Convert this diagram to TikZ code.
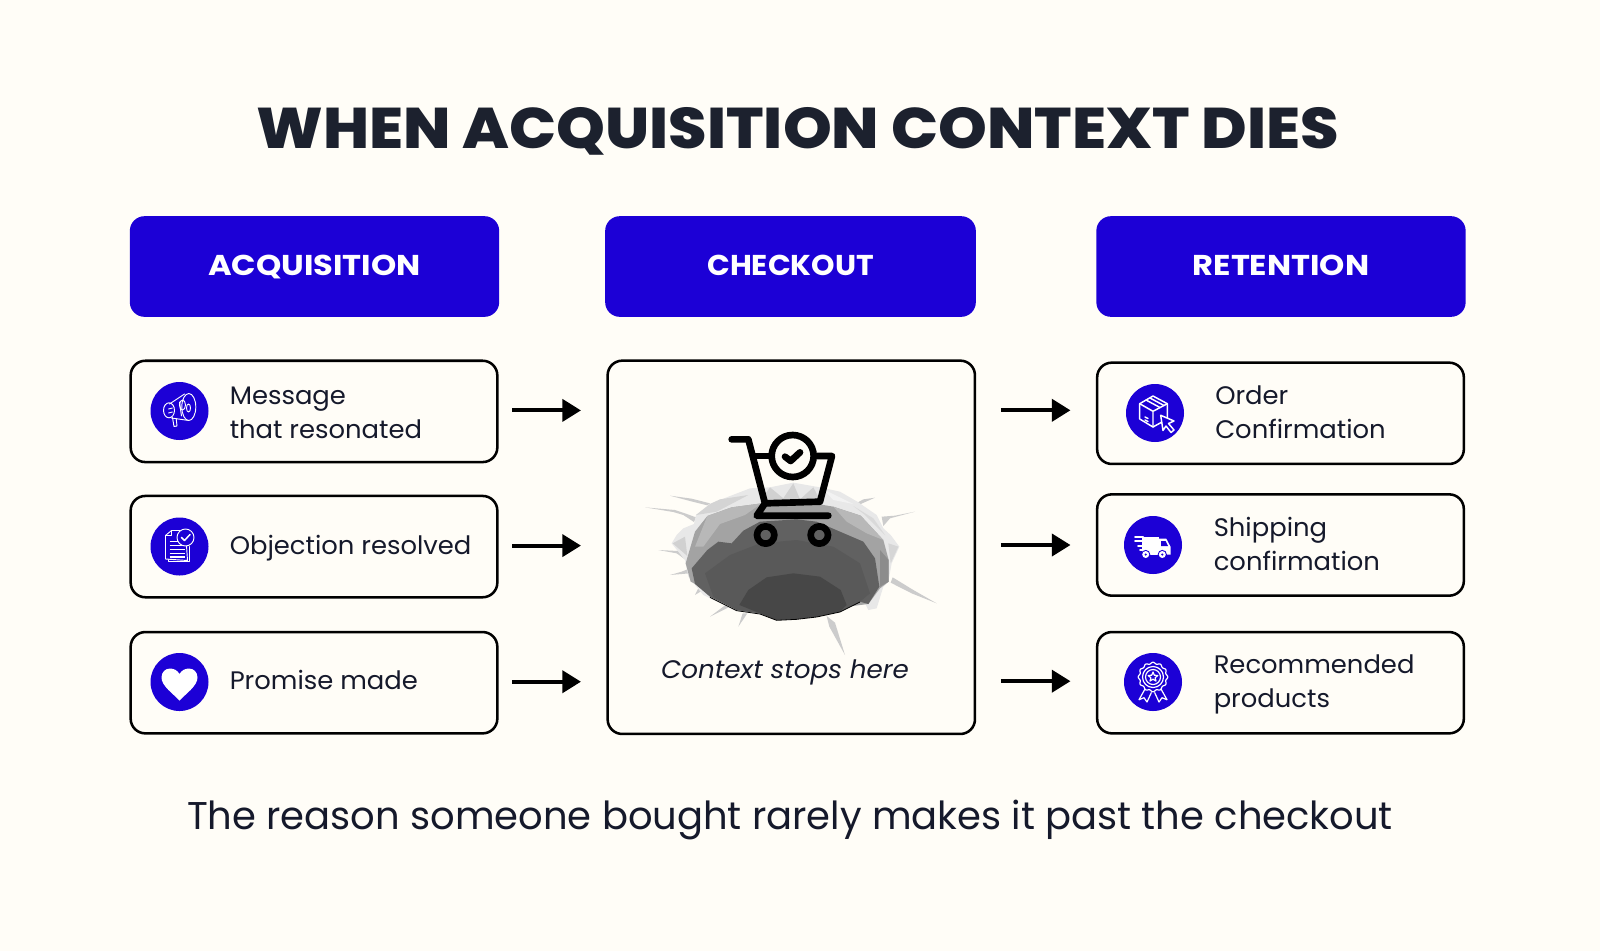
\documentclass[tikz,border=0pt]{standalone}
\usepackage{fontspec}
\usepackage{graphicx}
\usetikzlibrary{arrows.meta,calc}
\newfontfamily\titlef[FakeStretch=1.083]{Poppins ExtraBold}
\newfontfamily\headf[FakeStretch=1.12]{Poppins Bold}
\newfontfamily\bodyf[FakeStretch=1.02]{Poppins}
\newfontfamily\footf[FakeStretch=.995]{Poppins}
\newfontfamily\itf[FakeStretch=1.035]{Poppins Italic}
\definecolor{bgc}{HTML}{FFFDF7}
\definecolor{blu}{HTML}{1C00D6}
\definecolor{ink}{HTML}{1C212E}
\definecolor{bodyink}{HTML}{15192B}
\tikzset{
 x=.75pt,y=-.75pt,
 head/.style={rectangle,rounded corners=11pt,fill=blu,minimum width=277pt,minimum height=75.5pt,inner sep=0pt,outer sep=0pt},
 headtxt/.style={text=white,font=\headf\fontsize{21.5}{24}\selectfont,inner sep=0pt,anchor=base},
 card/.style={rectangle,rounded corners=11pt,draw=black,line width=1.9pt,fill=bgc,inner sep=0pt,outer sep=0pt},
 badge/.style={circle,fill=blu,minimum size=43.5pt,inner sep=0pt},
 lab/.style={text=bodyink,font=\bodyf\fontsize{19}{25.3}\selectfont,inner sep=0pt,align=left},
 conn/.style={line width=3pt,-{Triangle[length=14pt,width=16.5pt]}},
 ico/.style={draw=white,line width=.7pt,line join=round,line cap=round},
 cartl/.style={draw=black,line width=5pt,line cap=round,line join=round},
 rim/.style={fill=#1,draw=none},
}
\begin{document}
\begin{tikzpicture}
\useasboundingbox (0,0) rectangle (1600,951);
\fill[bgc] (0,0) rectangle (1600,951);

\node[text=ink,font=\titlef\fontsize{43}{50}\selectfont,inner sep=0pt,anchor=base] (title) at (797.5,148) {WHEN ACQUISITION CONTEXT DIES};

\node[head] (h1) at (314.5,266.5) {};
\node[head,minimum width=278pt] (h2) at (790.5,266.5) {};
\node[head] (h3) at (1281,266.5) {};
\node[headtxt] (h1t) at (314.5,275.5) {ACQUISITION};
\node[headtxt] (h2t) at (790.5,275.5) {\scalebox{.93}[1]{CHECKOUT}};
\node[headtxt] (h3t) at (1281,275.5) {RETENTION};

% cards
\node[card,minimum width=275pt,minimum height=76pt] (a1) at (314,411.4) {};
\node[card,minimum width=275pt,minimum height=76pt] (a2) at (314,546.6) {};
\node[card,minimum width=275pt,minimum height=76pt] (a3) at (314,682.7) {};
\node[card,minimum width=275pt,minimum height=76pt] (r1) at (1280.5,413.3) {};
\node[card,minimum width=275pt,minimum height=76pt] (r2) at (1280.5,545) {};
\node[card,minimum width=275pt,minimum height=76pt] (r3) at (1280.5,682.7) {};
\node[card,minimum width=275.5pt,minimum height=280pt] (mid) at (791.3,547.3) {};

% connectors
\draw[conn,shorten <=11pt,shorten >=20pt] ($(a1.east)+(0,-1)$) -- ($(a1.east -| mid.west)+(0,-1)$);
\draw[conn,shorten <=11pt,shorten >=20pt] ($(a2.east)+(0,-1)$) -- ($(a2.east -| mid.west)+(0,-1)$);
\draw[conn,shorten <=11pt,shorten >=20pt] ($(a3.east)+(0,-1)$) -- ($(a3.east -| mid.west)+(0,-1)$);
\draw[conn,shorten <=19.5pt,shorten >=20pt] ($(r1.west -| mid.east)+(0,-3)$) -- ($(r1.west)+(0,-3)$);
\draw[conn,shorten <=19.5pt,shorten >=20pt] (r2.west -| mid.east) -- (r2.west);
\draw[conn,shorten <=19.5pt,shorten >=20pt] ($(r3.west -| mid.east)+(0,-1.5)$) -- ($(r3.west)+(0,-1.5)$);

% badges
\node[badge] (ba1) at (179.5,411) {};
\node[badge] (ba2) at (179.5,546.5) {};
\node[badge] (ba3) at (179.5,682) {};
\node[badge] (br1) at (1155,413) {};
\node[badge] (br2) at (1153,545) {};
\node[badge] (br3) at (1153,682) {};

% labels
\node[lab,anchor=base west] (ta1) at (229.5,438.5) {Message\\that resonated};
\node[lab,anchor=base west] (ta2) at (229.5,554) {Objection resolved};
\node[lab,anchor=base west] (ta3) at (229.5,689.5) {Promise made};
\node[lab,anchor=base west] (tr1) at (1215,438.5) {Order\\Confirmation};
\node[lab,anchor=base west] (tr2) at (1213.5,570) {Shipping\\confirmation};
\node[lab,anchor=base west] (tr3) at (1213.5,707.7) {Recommended\\products};
\node[text=bodyink,font=\itf\fontsize{19}{24}\selectfont,inner sep=0pt,anchor=base] (ctx) at (785,678) {Context stops here};
\node[text=bodyink,font=\footf\fontsize{29}{34}\selectfont,inner sep=0pt,anchor=base] (foot) at (790,829) {The reason someone bought rarely makes it past the checkout};

% megaphone
\begin{scope}[shift={(ba1.center)}]
 \draw[ico] (9.3,-4) ellipse [x radius=7,y radius=13.5];
 \draw[ico] (-10,-7) -- (5,-17) (-8,7) -- (8,9.3);
 \draw[ico] (-10.5,-.7) ellipse [x radius=5.5,y radius=7.5];
 \draw[ico] (-7,6.5) -- (-5.5,15.5) -- (-2.5,15) -- (-3.3,7.5);
 \draw[ico] (3,-6) ellipse [x radius=3,y radius=5];
 \draw[ico] (-11,-2) -- (-7,-3) (-11,2) -- (-7,1);
 \draw[ico] (0,-9) -- (2,5) (9,-3) ellipse [x radius=2,y radius=4];
\end{scope}
% document
\begin{scope}[shift={(ba2.center)}]
 \draw[ico] (-11,-12) -- (-11,15) -- (10,15) -- (10,0);
 \draw[ico,fill=blu] (-8,-16) -- (6,-16) -- (8,14) -- (-14,12.5) -- (-14,-11) -- cycle;
 \draw[ico] (-14,-11) -- (-8,-11) -- (-8,-16);
 \foreach \yy in {-5,-1,3,7,10.5} \draw[white,line width=1pt] (-10,\yy) -- (5,\yy);
 \draw[ico,fill=blu] (6,-9) circle (8.5);
 \draw[white,line width=1.1pt,line cap=round,line join=round] (2,-9) -- (5,-6) -- (10.5,-12);
\end{scope}
% heart
\begin{scope}[shift={(ba3.center)}]
 \fill[white] (0,18.5) .. controls (-6,12) and (-18,4) .. (-18,-4.5) .. controls (-18,-10) and (-14,-13.5) .. (-9.5,-13.5) .. controls (-5.5,-13.5) and (-2,-11.5) .. (0,-8) .. controls (2,-11.5) and (5.5,-13.5) .. (9.5,-13.5) .. controls (14,-13.5) and (18,-10) .. (18,-4.5) .. controls (18,4) and (6,12) .. (0,18.5) -- cycle;
\end{scope}
% parcel
\begin{scope}[shift={(br1.center)}]
 \draw[ico,line width=1.1pt] (-2,-17) -- (12.3,-9.3) -- (12.3,6) -- (-2,14) -- (-15.3,6) -- (-15.3,-9.3) -- cycle;
 \draw[ico,line width=1.1pt] (-15.3,-9.3) -- (-2,-1.7) -- (12.3,-9.3) (-2,-1.7) -- (-2,14);
 \draw[ico,line width=1.1pt] (-9,-13) -- (5,-5.5) (-5,-15) -- (9,-7.5);
 \draw[ico,line width=1.1pt] (-10,4) -- (-7,5.5) (-10,7) -- (-7,8.5);
 \draw[ico,line width=1.1pt,fill=blu] (5.7,2.3) -- (19,8) -- (13.5,10.5) -- (19,17) -- (16,19.5) -- (11,13) -- (8,17.5) -- cycle;
\end{scope}
% truck
\begin{scope}[shift={(br2.center)}]
 \fill[white] (-11,-8) rectangle (6,9.5);
 \fill[white] (6,-6.3) -- (13.3,-6.3) -- (17.7,2) -- (17.7,9.5) -- (6,9.5) -- cycle;
 \fill[blu] (8,-4) -- (12.5,-4) -- (15,1) -- (8,1) -- cycle;
 \draw[white,line width=1.5pt,line cap=round] (-18,-8) -- (-10,-8) (-18,-3.7) -- (-10,-3.7) (-15,1) -- (-10,1) (-13,5.3) -- (-10,5.3);
 \foreach \wx in {-7.3,9.3} {\fill[blu] (\wx,9.5) circle (4.6); \fill[white] (\wx,9.5) circle (3.5); \fill[blu] (\wx,9.5) circle (1.2);}
\end{scope}
% rosette
\begin{scope}[shift={(br3.center)}]
 \draw[ico,line width=.9pt] plot[domain=0:360,samples=97,smooth] ({(14+.8*cos(12*\x))*cos(\x)},{-5+(14+.8*cos(12*\x))*sin(\x)}) -- cycle;
 \draw[ico,line width=.9pt] (0,-5) circle (10.5);
 \draw[ico,line width=.9pt] (0,-5) circle (7.5);
 \draw[ico,line width=.9pt] (0,-10) -- (1.3,-6.8) -- (4.8,-6.5) -- (2.1,-4.2) -- (3,-1) -- (0,-2.8) -- (-3,-1) -- (-2.1,-4.2) -- (-4.8,-6.5) -- (-1.3,-6.8) -- cycle;
 \draw[ico,line width=.9pt] (-8,7) -- (-14,17.7) -- (-9,15.7) -- (-6,20) -- (-1.7,10.7);
 \draw[ico,line width=.9pt] (8,7) -- (14,17.7) -- (9,15.7) -- (6,20) -- (1.7,10.7);
\end{scope}

% hole and cart
\begin{scope}[shift={(620,400)},x=.25pt,y=-.25pt]
 % cracks
 \foreach \c in {
  {(150,287) -- (215,296) -- (270,310) -- (262,316) -- (210,303) -- cycle},
  {(75,322) -- (165,330) -- (195,340) -- (228,352) -- (222,366) -- (190,345) -- (160,336) -- cycle},
  {(115,450) -- (175,453) -- (200,468) -- (195,478) -- (170,460) -- cycle},
  {(150,525) -- (185,515) -- (215,503) -- (210,520) -- (185,522) -- cycle},
  {(818,532) -- (880,570) -- (950,610) -- (875,580) -- (812,548) -- cycle},
  {(620,648) -- (645,668) -- (675,765) -- (628,680) -- cycle},
  {(765,293) -- (730,298) -- (705,312) -- (722,312) -- cycle},
  {(885,335) -- (825,347) -- (785,350) -- (790,378) -- (810,355) -- cycle},
  {(225,585) -- (236,562) -- (246,572) -- cycle},
  {(270,650) -- (318,614) -- (326,622) -- cycle},
  {(355,680) -- (368,640) -- (382,640) -- cycle}}
  {\path[fill=black!20] \c;}
 % outer rim
 \path[rim=black!9] (155,430) -- (170,405) -- (190,385) -- (222,372) -- (228,345) -- (270,312) -- (325,290) -- (390,265) -- (450,262) -- (520,248) -- (600,262) -- (660,275) -- (712,305) -- (770,345) -- (790,385) -- (812,405) -- (838,440) -- (815,490) -- (805,545) -- (790,560) -- (770,625) -- (745,630) -- (735,610) -- (520,660) -- (350,632) -- (250,585) -- (205,530) -- (195,480) -- cycle;
 \path[rim=black!17] (228,345) -- (290,335) -- (385,285) -- (300,298) -- (270,312) -- cycle;
 \path[rim=black!15] (700,318) -- (760,355) -- (795,405) -- (735,345) -- cycle;
 \path[rim=black!18] (158,430) -- (195,410) -- (202,468) -- cycle;
 \path[rim=black!18] (450,262) -- (490,295) -- (520,250) -- (540,298) -- (580,262) -- (600,300) -- (420,305) -- cycle;
 \path[rim=black!5] (610,268) -- (700,312) -- (640,300) -- cycle;
 \path[rim=black!16] (805,430) -- (835,440) -- (812,490) -- cycle;
 % middle ring
 \path[rim=black!36] (197,490) -- (225,395) -- (262,348) -- (335,322) -- (425,310) -- (520,300) -- (640,320) -- (722,347) -- (790,420) -- (806,480) -- (806,545) -- (780,565) -- (745,612) -- (520,640) -- (300,590) -- (212,545) -- cycle;
 \path[rim=black!28] (262,348) -- (335,322) -- (425,310) -- (375,345) -- (300,372) -- (250,440) -- (225,440) -- cycle;
 \path[rim=black!28] (640,320) -- (722,347) -- (790,420) -- (740,400) -- (680,365) -- cycle;
 \path[rim=black!45] (780,450) -- (806,480) -- (806,545) -- (780,560) -- cycle;
 % cavity
 \path[rim=black!62] (215,505) -- (262,450) -- (295,425) -- (335,430) -- (370,392) -- (420,365) -- (530,358) -- (590,365) -- (660,395) -- (730,425) -- (765,475) -- (778,560) -- (745,612) -- (720,605) -- (660,635) -- (590,650) -- (530,657) -- (470,660) -- (420,640) -- (350,630) -- (270,590) -- (225,552) -- cycle;
 \path[rim=black!65] (280,590) -- (255,520) -- (330,465) -- (420,430) -- (530,420) -- (640,440) -- (720,490) -- (750,580) -- (720,605) -- (660,635) -- (590,650) -- (530,657) -- (470,660) -- (420,640) -- (350,630) -- cycle;
 \path[rim=black!72] (358,615) -- (385,570) -- (440,532) -- (520,520) -- (600,530) -- (662,570) -- (680,615) -- (660,635) -- (590,650) -- (530,657) -- (470,660) -- (420,640) -- cycle;
 \draw[black,line width=.6pt] (270,592) -- (350,632) -- (420,642) -- (470,661) -- (530,658) -- (590,651) -- (660,636) -- (720,606);
 % cart
 \draw[cartl] (335,118) -- (385,118) -- (435,310) -- (600,305) -- (636,168) -- (590,168);
 \draw[cartl] (405,168) -- (452,168);
 \draw[cartl] (435,310) -- (410,347) -- (625,347);
 \draw[cartl] (518,168) circle (63);
 \draw[black,line width=5pt,line cap=round,line join=round] (495,170) -- (512,183) -- (540,157);
 \draw[cartl] (437,405) circle (26);
 \draw[cartl] (598,405) circle (26);
\end{scope}
\end{tikzpicture}
\end{document}
